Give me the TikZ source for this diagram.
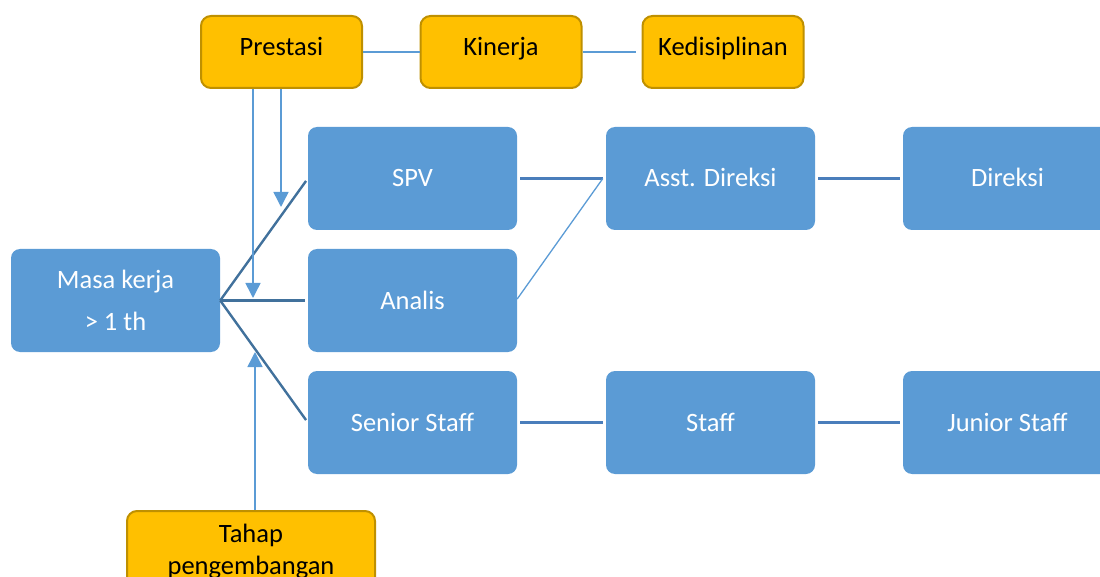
\documentclass[tikz,border=0pt]{standalone}
\usepackage{fontspec}
\setmainfont{Carlito}
\usetikzlibrary{arrows.meta}
\definecolor{boxblue}{HTML}{5B9BD5}
\definecolor{boxorange}{HTML}{FFC000}
\definecolor{orangeedge}{HTML}{BF9000}
\definecolor{linkdark}{HTML}{41719C}
\definecolor{linkmid}{HTML}{4A7EBB}
\definecolor{linklight}{HTML}{5B9BD5}
\begin{document}
\begin{tikzpicture}[x=1pt,y=-1pt,
  basefont/.style={font=\fontsize{26.5}{32}\selectfont},
  bluebox/.style={basefont,rectangle,rounded corners=9pt,fill=boxblue,draw=none,text=white,
    minimum width=209pt,minimum height=103pt,inner sep=0pt,align=center},
  oneline/.style={text height=22pt,text depth=5pt},
  orangebox/.style={basefont,rectangle,rounded corners=10pt,fill=boxorange,draw=orangeedge,
    line width=2pt,text=black,minimum width=161pt,minimum height=72pt,inner sep=0pt,align=center},
  orangeline/.style={text height=18pt,text depth=11pt},
  fanline/.style={draw=linkdark,line width=2.4pt},
  hlink/.style={draw=linkmid,line width=2.4pt,shorten <=3pt,shorten >=3pt},
  thinlink/.style={draw=linklight,line width=1.3pt},
  arrowline/.style={draw=linklight,line width=1.5pt,-{Triangle[width=15pt,length=15pt]}}
]
\useasboundingbox (0,0) rectangle (1100,577);
\clip (0,0) rectangle (1100,577);

% orange boxes
\node[orangebox,orangeline] (prestasi) at (281.5,52) {Prestasi};
\node[orangebox,orangeline] (kinerja) at (501,52) {Kinerja};
\node[orangebox,orangeline] (disiplin) at (723,52) {Kedisiplinan};
\node[orangebox,minimum width=248pt,minimum height=81pt] (tahap) at (251,551.5) {Tahap\\pengembangan};

% blue boxes
\node[bluebox] (masa) at (115.5,300.5) {Masa kerja\\[10pt]> 1 th};
\node[bluebox,oneline] (spv) at (412.5,178.5) {SPV};
\node[bluebox,oneline] (analis) at (412.5,300.5) {Analis};
\node[bluebox,oneline] (senior) at (412.5,422.5) {Senior Staff};
\node[bluebox,oneline] (asst) at (710.5,178.5) {Asst. Direksi};
\node[bluebox,oneline] (staff) at (710.5,422.5) {Staff};
\node[bluebox,oneline] (direksi) at (1007.5,178.5) {Direksi};
\node[bluebox,oneline] (junior) at (1007.5,422.5) {Junior Staff};

% links between orange boxes
\draw[thinlink] (prestasi.east) -- (kinerja.west);
\draw[thinlink,shorten >=6pt] (kinerja.east) -- (disiplin.west);

% fan from Masa kerja
\draw[fanline,shorten >=3pt] (masa.east) -- (spv.west);
\draw[fanline,shorten >=3pt] (masa.east) -- (analis.west);
\draw[fanline,shorten >=3pt] (masa.east) -- (senior.west);

% horizontal links
\draw[hlink] (spv.east) -- (asst.west);
\draw[hlink] (asst.east) -- (direksi.west);
\draw[hlink] (senior.east) -- (staff.west);
\draw[hlink] (staff.east) -- (junior.west);
\draw[thinlink] ([yshift=1.5pt]analis.east) -- ([xshift=-3pt]asst.west);

% arrows
\coordinate (tipA) at (281,207);
\coordinate (tipB) at (253,298);
\coordinate (tipC) at (255,352);
\draw[arrowline] ([xshift=-0.5pt]prestasi.south) -- (tipA);
\draw[arrowline] ([xshift=-28.5pt]prestasi.south) -- (tipB);
\draw[arrowline] ([xshift=4pt]tahap.north) -- (tipC);
\end{tikzpicture}
\end{document}
